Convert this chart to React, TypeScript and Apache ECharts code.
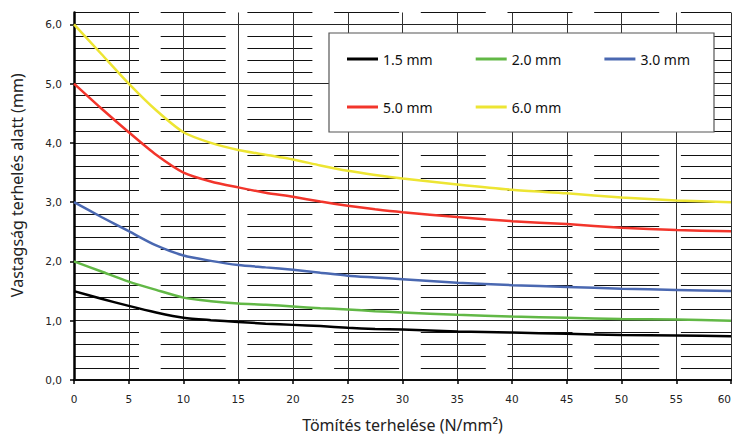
import React, { useEffect, useRef } from "react";
import * as echarts from "echarts";

const loadX = [0, 2.5, 5, 7.5, 10, 12.5, 15, 17.5, 20, 22.5, 25, 27.5, 30, 35, 40, 45, 50, 55, 60];
const t15 = [1.5, 1.37, 1.25, 1.14, 1.05, 1.01, 0.98, 0.95, 0.93, 0.91, 0.88, 0.86, 0.85, 0.82, 0.8, 0.78, 0.76, 0.75, 0.74];
const t20 = [2.0, 1.83, 1.66, 1.52, 1.39, 1.33, 1.29, 1.27, 1.24, 1.21, 1.19, 1.16, 1.14, 1.1, 1.07, 1.05, 1.03, 1.02, 1.0];
const t30 = [3.0, 2.75, 2.51, 2.27, 2.1, 2.01, 1.94, 1.9, 1.86, 1.81, 1.76, 1.73, 1.7, 1.64, 1.6, 1.57, 1.54, 1.52, 1.5];
const t50 = [5.0, 4.58, 4.18, 3.8, 3.5, 3.35, 3.25, 3.16, 3.09, 3.01, 2.94, 2.88, 2.83, 2.75, 2.68, 2.63, 2.57, 2.53, 2.51];
const t60 = [6.0, 5.5, 5.0, 4.55, 4.18, 4.0, 3.88, 3.8, 3.72, 3.62, 3.53, 3.46, 3.4, 3.3, 3.21, 3.15, 3.08, 3.03, 3.0];

const seriesNames = ["1.5 mm", "2.0 mm", "3.0 mm", "5.0 mm", "6.0 mm"];
const seriesColors = ["#000000", "#62b846", "#4a68b1", "#f2352b", "#ede533"];
const seriesValues = [t15, t20, t30, t50, t60];
const yTickValues = [0, 1, 2, 3, 4, 5, 6];

export default function App() {
  const ref = useRef<HTMLDivElement>(null);
  useEffect(() => {
    if (!ref.current) return;
    const chart = echarts.init(ref.current, undefined, { renderer: "svg" });
    const labelFont = { fontFamily: "DejaVu Sans", fontSize: 10.5, color: "#222" };
    const legendCommon = {
      orient: "horizontal",
      left: 347,
      width: 390,
      padding: 0,
      itemGap: 0,
      itemWidth: 31,
      itemHeight: 3,
      icon: "rect",
      z: 5,
      textStyle: { fontFamily: "Noto Sans", fontSize: 14, color: "#111", width: 92.7, lineHeight: 16 },
    };
    chart.setOption({
      animation: false,
      backgroundColor: "#ffffff",
      grid: { left: 74, right: 1, top: 12.5, bottom: 59, containLabel: false, outerBoundsMode: "none" },
      xAxis: [
        {
          type: "value",
          min: 0,
          max: 60,
          interval: 5,
          name: "Tömítés terhelése (N/mm²)",
          nameLocation: "middle",
          nameGap: 37,
          nameTextStyle: { fontFamily: "Noto Sans", fontSize: 16, color: "#222" },
          axisLine: { show: true, lineStyle: { color: "#000", width: 2 } },
          axisTick: { show: true, length: 4, lineStyle: { color: "#000", width: 1.5 } },
          axisLabel: { ...labelFont, margin: 13, alignMaxLabel: "right" },
          splitLine: { show: true, lineStyle: { color: "#333", width: 1 } },
        },
        {
          type: "value",
          min: 0,
          max: 60,
          interval: 5,
          position: "top",
          axisLine: { show: true, lineStyle: { color: "#111", width: 1.5 } },
          axisTick: { show: false },
          axisLabel: { show: false },
          splitLine: { show: false },
        },
      ],
      yAxis: [
        {
          type: "value",
          min: 0,
          max: 6.2,
          interval: 0.2,
          name: "Vastagság terhelés alatt (mm)",
          nameLocation: "middle",
          nameGap: 49,
          nameTextStyle: { fontFamily: "Noto Sans", fontSize: 16, color: "#222", padding: [0, 0, 0, 22] },
          axisLine: { show: true, lineStyle: { color: "#000", width: 2.5 } },
          axisTick: { show: false },
          axisLabel: { show: false },
          splitLine: { show: true, lineStyle: { color: "#111", width: 1, type: [65, 21.7] } },
        },
        {
          type: "value",
          min: 0,
          max: 6.2,
          interval: 1,
          position: "left",
          axisLine: { show: false },
          axisTick: { show: true, length: 4, customValues: yTickValues, lineStyle: { color: "#000", width: 1.5 } },
          axisLabel: {
            ...labelFont,
            margin: 12,
            customValues: yTickValues,
            formatter: (v: number) => v.toFixed(1).replace(".", ","),
          },
          splitLine: { show: true, lineStyle: { color: "#222", width: 1 } },
        },
      ],
      legend: [
        { ...legendCommon, top: 51, data: seriesNames.slice(0, 3) },
        { ...legendCommon, top: 99, data: seriesNames.slice(3) },
      ],
      graphic: [
        {
          type: "rect",
          z: 4,
          shape: { x: 329, y: 33, width: 385, height: 99 },
          style: { fill: "#ffffff", stroke: "#555", lineWidth: 1.2 },
        },
      ],
      series: seriesNames.map((name, i) => ({
        name,
        type: "line",
        yAxisIndex: 0,
        smooth: 0.25,
        showSymbol: false,
        symbol: "none",
        z: 3,
        lineStyle: { color: seriesColors[i], width: 2.5 },
        itemStyle: { color: seriesColors[i] },
        data: loadX.map((x, j) => [x, seriesValues[i][j]]),
      })),
    });
    return () => chart.dispose();
  }, []);
  return <div ref={ref} style={{ position: "fixed", left: 0, top: 0, width: 732, height: 439 }} />;
}
